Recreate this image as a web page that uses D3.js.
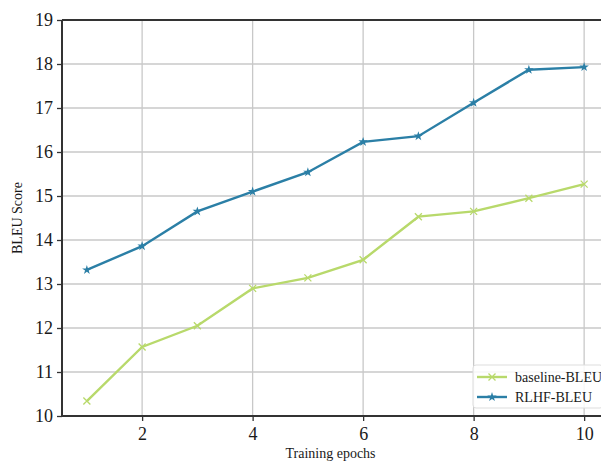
<!DOCTYPE html>
<html>
<head>
<meta charset="utf-8">
<script src="https://cdn.jsdelivr.net/npm/d3@7"></script>
<style>
  body { margin: 0; background: #fff; }
  svg { font-family: "Liberation Serif", "DejaVu Serif", serif; }
</style>
</head>
<body>
<svg id="chart" width="601" height="464"></svg>
<script>
// data
var epochs = [1, 2, 3, 4, 5, 6, 7, 8, 9, 10];
var baseline = [10.34, 11.57, 12.05, 12.9, 13.14, 13.55, 14.53, 14.65, 14.95, 15.27];
var rlhf = [13.32, 13.86, 14.65, 15.1, 15.54, 16.23, 16.36, 17.12, 17.87, 17.93];
var xTicks = [2, 4, 6, 8, 10];
var yTicks = [10, 11, 12, 13, 14, 15, 16, 17, 18, 19];

var svg = d3.select("#chart");
var mLeft = 62, mTop = 20, mBottom = 416, mRight = 609;

var x = d3.scaleLinear().domain([0.55, 10.45]).range([mLeft, mRight]);
var y = d3.scaleLinear().domain([10, 19]).range([mBottom, mTop]);

// grid
svg.append("g").selectAll("line").data(xTicks).enter().append("line")
    .attr("x1", d => x(d)).attr("x2", d => x(d))
    .attr("y1", mTop).attr("y2", mBottom)
    .attr("stroke", "#c8c8c8").attr("stroke-width", 1.3);
svg.append("g").selectAll("line").data(yTicks).enter().append("line")
    .attr("x1", mLeft).attr("x2", mRight)
    .attr("y1", d => y(d)).attr("y2", d => y(d))
    .attr("stroke", "#c8c8c8").attr("stroke-width", 1.3);

// axes
var xAxis = svg.append("g").attr("transform", "translate(0," + mBottom + ")")
    .call(d3.axisBottom(x).tickValues(xTicks).tickSize(5).tickPadding(6).tickFormat(d3.format("d")));
var yAxis = svg.append("g").attr("transform", "translate(" + mLeft + ",0)")
    .call(d3.axisLeft(y).tickValues(yTicks).tickSize(5).tickPadding(4).tickFormat(d3.format("d")));
[xAxis, yAxis].forEach(function(a) {
    a.select(".domain").remove();
    a.selectAll("line").attr("stroke", "#333").attr("stroke-width", 1.3);
    a.selectAll("text").attr("font-size", 18).attr("fill", "#1a1a1a")
        .attr("font-family", "Liberation Serif, serif");
});

// spines
svg.append("line").attr("x1", mLeft).attr("x2", mLeft).attr("y1", mTop).attr("y2", mBottom)
    .attr("stroke", "#333").attr("stroke-width", 2);
svg.append("line").attr("x1", mLeft).attr("x2", mRight).attr("y1", mBottom).attr("y2", mBottom)
    .attr("stroke", "#333").attr("stroke-width", 2);
svg.append("line").attr("x1", mLeft).attr("x2", mRight).attr("y1", mTop).attr("y2", mTop)
    .attr("stroke", "#333").attr("stroke-width", 2);

var line = d3.line().x((d, i) => x(epochs[i])).y(d => y(d));

var green = "#b8d96b", blue = "#2b7fa6";
var xMark = "M-3.5,-3.5L3.5,3.5M-3.5,3.5L3.5,-3.5";

svg.append("path").datum(baseline).attr("d", line)
    .attr("fill", "none").attr("stroke", green).attr("stroke-width", 2.4);
svg.append("g").selectAll("path").data(baseline).enter().append("path")
    .attr("d", xMark)
    .attr("transform", (d, i) => "translate(" + x(epochs[i]) + "," + y(d) + ")")
    .attr("fill", "none").attr("stroke", green).attr("stroke-width", 1.3);

svg.append("path").datum(rlhf).attr("d", line)
    .attr("fill", "none").attr("stroke", blue).attr("stroke-width", 2.4);
svg.append("g").selectAll("path").data(rlhf).enter().append("path")
    .attr("d", d3.symbol(d3.symbolStar, 28))
    .attr("transform", (d, i) => "translate(" + x(epochs[i]) + "," + y(d) + ")")
    .attr("fill", blue);

// labels
svg.append("text").attr("x", (mLeft + 599) / 2).attr("y", 458)
    .attr("text-anchor", "middle").attr("font-size", 14).attr("fill", "#1a1a1a")
    .text("Training epochs");
svg.append("text").attr("transform", "translate(22," + (mTop + mBottom) / 2 + ") rotate(-90)")
    .attr("text-anchor", "middle").attr("font-size", 14).attr("fill", "#1a1a1a")
    .text("BLEU Score");

// legend
var lg = svg.append("g").attr("transform", "translate(473,365)");
lg.append("rect").attr("width", 130).attr("height", 43).attr("rx", 3)
    .attr("fill", "#fff").attr("fill-opacity", 0.85).attr("stroke", "#ddd");
var entries = [{name: "baseline-BLEU", c: green}, {name: "RLHF-BLEU", c: blue}];
entries.forEach(function(e, i) {
    var yy = 12 + i * 20;
    lg.append("line").attr("x1", 4).attr("x2", 34).attr("y1", yy).attr("y2", yy)
        .attr("stroke", e.c).attr("stroke-width", 2.4);
    if (i == 0) {
        lg.append("path").attr("d", xMark).attr("transform", "translate(19," + yy + ")")
            .attr("fill", "none").attr("stroke", e.c).attr("stroke-width", 1.3);
    } else {
        lg.append("path").attr("d", d3.symbol(d3.symbolStar, 28))
            .attr("transform", "translate(19," + yy + ")").attr("fill", e.c);
    }
    lg.append("text").attr("x", 42).attr("y", yy + 5).attr("font-size", 14).attr("fill", "#1a1a1a")
        .text(e.name);
});
</script>
</body>
</html>
